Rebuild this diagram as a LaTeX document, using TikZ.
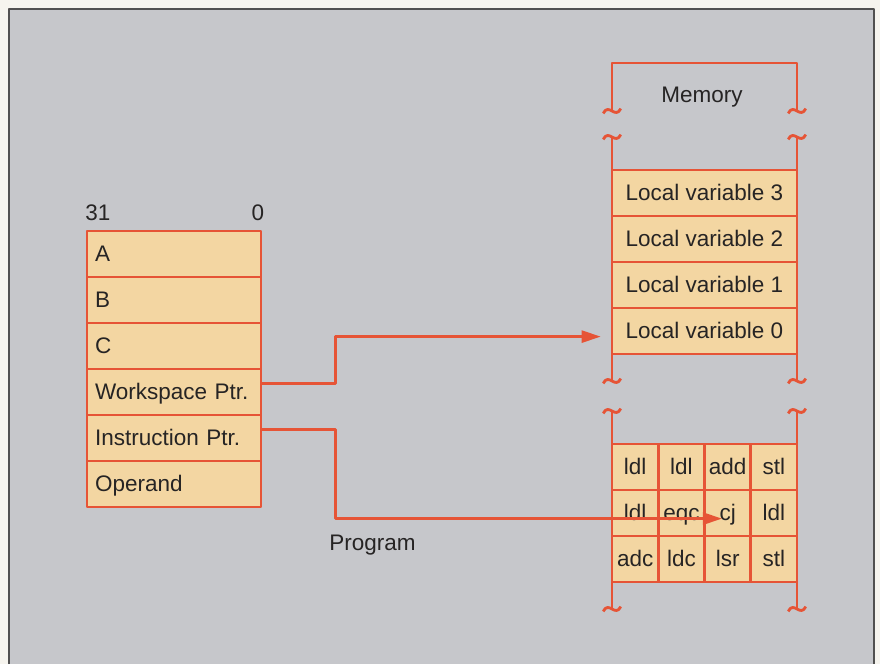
\documentclass[tikz,border=0pt]{standalone}
\usepackage{fontspec}
\setmainfont{Liberation Sans}
\usetikzlibrary{arrows.meta,calc}
\usetikzlibrary{positioning}
\definecolor{wire}{RGB}{230,84,54}
\definecolor{boxfill}{RGB}{243,214,162}
\definecolor{bggray}{RGB}{198,199,203}
\definecolor{paper}{RGB}{246,244,238}
\definecolor{ink}{RGB}{38,36,36}
\tikzset{reg/.style={draw=wire,fill=boxfill,line width=2pt,minimum height=1.15cm,text width=3.95cm,inner xsep=0.2cm,align=left,text height=12pt,text depth=1pt},
  mem/.style={draw=wire,fill=boxfill,line width=2pt,minimum width=4.625cm,minimum height=1.15cm,text height=12pt,text depth=1pt},
  cell/.style={draw=wire,fill=boxfill,line width=2pt,minimum width=1.15625cm,minimum height=1.15cm,inner sep=0pt,text height=12pt,text depth=1pt},
  side/.style={wire,line width=2pt},
  ptr/.style={wire,line width=2pt,-{Triangle[length=4.8mm,width=3mm]}},
  brk/.pic={\draw[wire,line width=2pt] (-0.22,-0.06) .. controls (-0.08,0.22) and (0.08,-0.22) .. (0.22,0.06);}}

\begin{document}
\begin{tikzpicture}[font=\fontsize{16}{19}\selectfont,text=ink,line join=round]
\fill[paper] (0,0) rectangle (22,16.6);
\fill[bggray] (0.225,0) rectangle (21.85,16.375);
\draw[ink!80,line width=0.8pt] (0.225,0) -- (0.225,16.375) -- (21.85,16.375) -- (21.85,0);
% --- registers
\node (msb) at (2.45,11.275) {31};
\node (lsb) at (6.45,11.275) {0};
\foreach \lbl/\nm [count=\i] in {A/regA,B/regB,C/regC,Workspace Ptr./wsp,Instruction Ptr./iptr,Operand/opnd}
  \node[reg] (\nm) at (4.35,{10.825-(\i-0.5)*1.15}) {\lbl};
% --- memory, broken sides
\draw[side] (15.3,13.825) -- (15.3,15.025) -- (19.925,15.025) -- (19.925,13.825);
\node (memlbl) at (17.55,14.18) {Memory};
\draw[side] (15.3,13.175) -- (15.3,7.075) (19.925,13.175) -- (19.925,7.075);
\draw[side] (15.3,6.325) -- (15.3,1.375) (19.925,6.325) -- (19.925,1.375);
\foreach \y in {13.825,13.175,7.075,6.325,1.375} {\pic at (15.3,\y) {brk}; \pic at (19.925,\y) {brk};}
\foreach \i in {0,...,3}
  \node[mem] (lv\i) at (17.6125,{7.75+(\i+0.5)*1.15}) {Local variable \i};
% --- program
\foreach \row [count=\r] in {{ldl,ldl,add,stl},{ldl,eqc,cj,ldl},{adc,ldc,lsr,stl}}
  \foreach \op [count=\c] in \row
    \node[cell] (p\r\c) at ({15.3+(\c-0.5)*1.15625},{5.5-(\r-0.5)*1.15}) {\op};
\node (prog) at (9.31,2.975) {Program};
% --- pointers
\draw[ptr,shorten >=7pt] ([yshift=6pt]wsp.east) -- ++(1.825,0) |- ([yshift=-4pt]lv0.west);
\draw[ptr,shorten >=4pt] ([yshift=6pt]iptr.east) -- ++(1.825,0) |- ([yshift=-4pt]p23.center);
\end{tikzpicture}
\end{document}
